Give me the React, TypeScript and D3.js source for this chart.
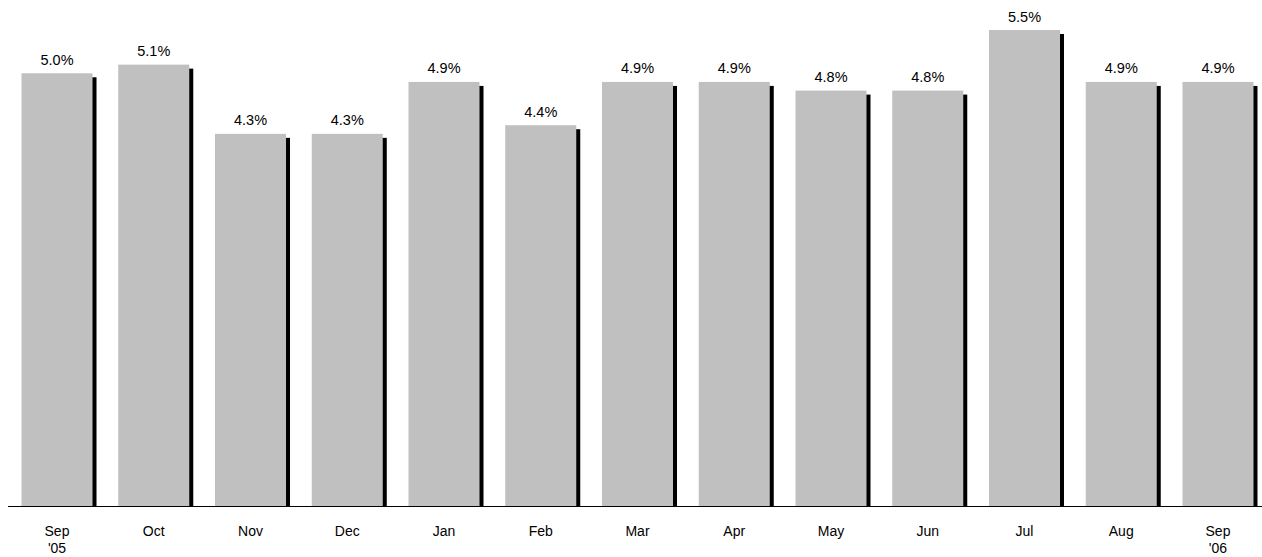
import React from "react";
import * as d3 from "d3";

const months = ["Sep", "Oct", "Nov", "Dec", "Jan", "Feb", "Mar", "Apr", "May", "Jun", "Jul", "Aug", "Sep"];
const years = ["'05", "", "", "", "", "", "", "", "", "", "", "", "'06"];
const rates = [5.0, 5.1, 4.3, 4.3, 4.9, 4.4, 4.9, 4.9, 4.8, 4.8, 5.5, 4.9, 4.9];

const W = 1262;
const H = 557;
const baseY = 506;
const font = "Liberation Sans, Arial, sans-serif";

export default function App() {
  const idx = months.map((_, i) => String(i));
  const x = d3
    .scaleBand<string>()
    .domain(idx)
    .range([21.5, 1253.5])
    .paddingInner(0.266)
    .paddingOuter(0);
  const y = d3.scaleLinear().domain([0, 5.5]).range([baseY, 30]);
  const shadow = 4;

  return (
    <>
      <style>{`html, body { margin: 0; padding: 0; }`}</style>
      <svg width={W} height={H} style={{ display: "block" }}>
        {rates.map((v, i) => {
          const x0 = x(String(i))!;
          const bw = x.bandwidth();
          const top = y(v);
          const cx = x0 + bw / 2;
          return (
            <g key={i}>
              <rect x={x0 + shadow} y={top + shadow} width={bw} height={baseY - top - shadow} fill="#000" />
              <rect x={x0} y={top} width={bw} height={baseY - top} fill="#c0c0c0" />
              <text x={cx} y={top - 8.5} textAnchor="middle" fontFamily={font} fontSize={14.5} fill="#000">
                {v.toFixed(1)}%
              </text>
              <text x={cx} y={535.5} textAnchor="middle" fontFamily={font} fontSize={14} fill="#000">
                {months[i]}
              </text>
              {years[i] && (
                <text x={cx} y={552.5} textAnchor="middle" fontFamily={font} fontSize={14} fill="#000">
                  {years[i]}
                </text>
              )}
            </g>
          );
        })}
        <line x1={8} x2={W} y1={baseY + 0.5} y2={baseY + 0.5} stroke="#000" strokeWidth={1} />
      </svg>
    </>
  );
}
